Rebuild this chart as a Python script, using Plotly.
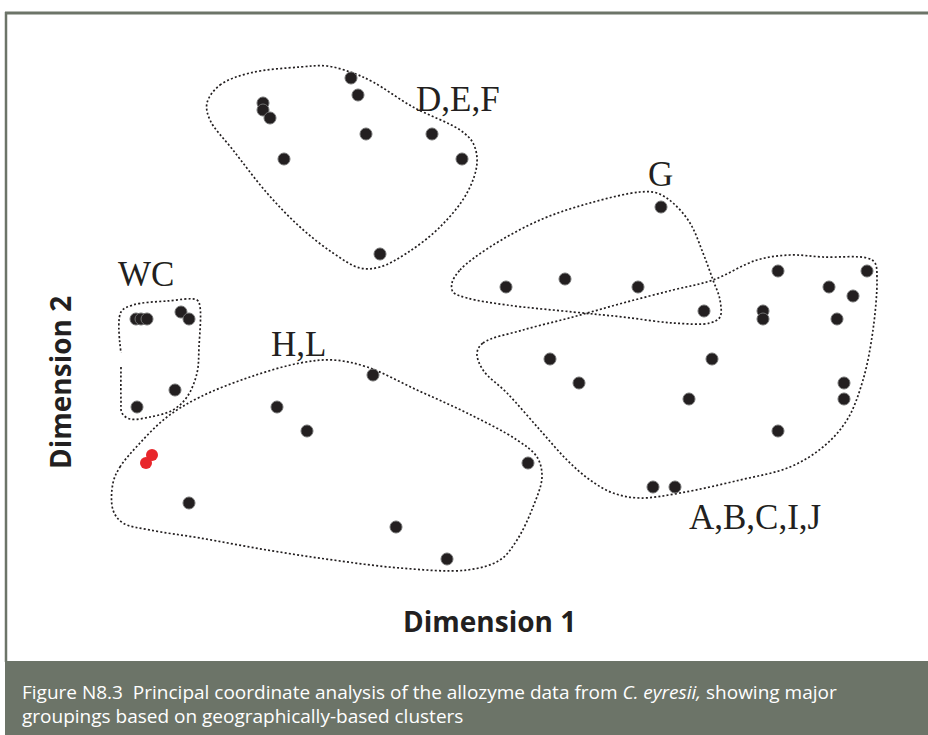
import plotly.graph_objects as go

# ---- data (positions, in picture units: dim1 -> right, dim2 -> down) ----
def_x = [351, 358, 263, 263, 270, 366, 432, 284, 462, 380]
def_y = [78, 95, 103, 110, 118, 134, 134, 159, 159, 254]

g_x = [661, 506, 565, 638, 704]
g_y = [207, 287, 279, 287, 311]

abc_x = [778, 867, 829, 853, 763, 763, 837, 550, 712, 579, 844, 689, 844, 778, 653, 675]
abc_y = [271, 271, 287, 296, 311, 319, 319, 359, 359, 383, 383, 399, 399, 431, 487, 487]

wc_x = [136, 141, 147, 181, 189, 175, 137]
wc_y = [319, 319, 319, 312, 319, 390, 407]

hl_x = [373, 277, 307, 528, 189, 396, 447]
hl_y = [375, 407, 431, 463, 503, 527, 559]

red_x = [152, 146]
red_y = [455, 463]

# cluster outlines
def_hull_x = [207, 220, 250, 300, 327, 353, 373, 413, 460, 473, 477, 467, 440, 407, 380, 360, 333, 300, 267, 233, 210, 207]
def_hull_y = [103, 85, 73, 67, 66, 73, 82, 107, 130, 143, 163, 193, 227, 253, 267, 268, 253, 227, 193, 150, 120, 103]

g_hull_x = [452, 460, 490, 540, 590, 640, 657, 673, 690, 703, 713, 720, 720, 710, 673, 623, 573, 507, 467, 453, 452]
g_hull_y = [283, 270, 247, 220, 203, 192, 193, 203, 223, 253, 280, 300, 317, 323, 323, 317, 312, 305, 298, 292, 283]

abc_hull_x = [477, 483, 523, 573, 623, 673, 713, 757, 790, 823, 867, 875, 877, 873, 863, 847, 823, 790, 740, 680, 640, 613, 590, 567, 540, 507, 483, 477]
abc_hull_y = [353, 343, 330, 317, 303, 290, 280, 260, 255, 257, 258, 263, 280, 330, 380, 420, 447, 467, 480, 493, 498, 493, 480, 460, 430, 393, 370, 353]

wc_hull_x = [121, 121, 122, 130, 150, 173, 187, 197, 199, 200, 197, 167, 133, 121, 121]
wc_hull_y = [367, 400, 413, 419, 417, 410, 397, 373, 347, 307, 300, 301, 305, 312, 353]

hl_hull_x = [113, 120, 140, 167, 200, 250, 300, 333, 367, 417, 467, 517, 537, 542, 533, 517, 500, 467, 400, 333, 267, 200, 150, 123, 113, 113]
hl_hull_y = [483, 467, 443, 417, 397, 377, 363, 360, 367, 390, 413, 440, 457, 477, 507, 540, 560, 570, 568, 560, 550, 538, 530, 523, 510, 483]

group_labels = ["D,E,F", "G", "WC", "H,L", "A,B,C,I,J"]
label_x = [458, 660, 146, 298, 755]
label_y = [99, 174, 274, 344, 517]

caption_line1 = "Figure N8.3  Principal coordinate analysis of the allozyme data from <i>C. eyresii,</i> showing major"
caption_line2 = "groupings based on geographically-based clusters"

INK = "#231f20"
FRAME = "#6c7468"

fig = go.Figure()

for hx, hy in [(def_hull_x, def_hull_y), (g_hull_x, g_hull_y), (abc_hull_x, abc_hull_y),
               (wc_hull_x, wc_hull_y), (hl_hull_x, hl_hull_y)]:
    fig.add_trace(go.Scatter(x=hx, y=hy, mode="lines", hoverinfo="skip",
                             line=dict(color=INK, width=1.7, dash="2px,2.2px", shape="spline", smoothing=1.0)))

for px, py in [(def_x, def_y), (g_x, g_y), (abc_x, abc_y), (wc_x, wc_y), (hl_x, hl_y)]:
    fig.add_trace(go.Scatter(x=px, y=py, mode="markers",
                             marker=dict(size=12, color=INK, line=dict(color="#707070", width=1))))

fig.add_trace(go.Scatter(x=red_x, y=red_y, mode="markers",
                         marker=dict(size=12, color="#e8262b", line=dict(color="#e8262b", width=0))))

for t, lx, ly in zip(group_labels, label_x, label_y):
    fig.add_annotation(x=lx, y=ly, text=t, showarrow=False, xanchor="center", yanchor="middle",
                       font=dict(family="Liberation Serif", size=35, color=INK))

# axis titles
fig.add_annotation(x=489, y=621, text="<b>Dimension 1</b>", showarrow=False,
                   font=dict(family="Open Sans", size=28, color=INK))
fig.add_annotation(x=60, y=383, text="<b>Dimension 2</b>", showarrow=False, textangle=-90,
                   font=dict(family="Open Sans", size=28, color=INK))

# frame and caption band
fig.add_shape(type="line", xref="x", yref="y", x0=5, x1=940, y0=13, y1=13,
              line=dict(color=FRAME, width=3), layer="below")
fig.add_shape(type="line", xref="x", yref="y", x0=6, x1=6, y0=12, y1=662,
              line=dict(color=FRAME, width=2.5), layer="below")
fig.add_shape(type="rect", xref="x", yref="y", x0=5, x1=940, y0=661, y1=740,
              fillcolor=FRAME, line=dict(width=0), layer="below")

fig.add_annotation(x=20, y=692, text=caption_line1, showarrow=False, xanchor="left", yanchor="middle",
                   font=dict(family="Open Sans", size=19, color="white"))
fig.add_annotation(x=20, y=716, text=caption_line2, showarrow=False, xanchor="left", yanchor="middle",
                   font=dict(family="Open Sans", size=19, color="white"))

fig.update_layout(
    width=928, height=735,
    margin=dict(l=0, r=0, t=0, b=0),
    paper_bgcolor="white", plot_bgcolor="white",
    showlegend=False,
    xaxis=dict(range=[0, 928], visible=False, fixedrange=True),
    yaxis=dict(range=[735, 0], visible=False, fixedrange=True),
)

fig.write_html("out.html", config={"displayModeBar": False},
               post_script="document.body.style.margin='0';document.body.style.overflow='hidden';")
